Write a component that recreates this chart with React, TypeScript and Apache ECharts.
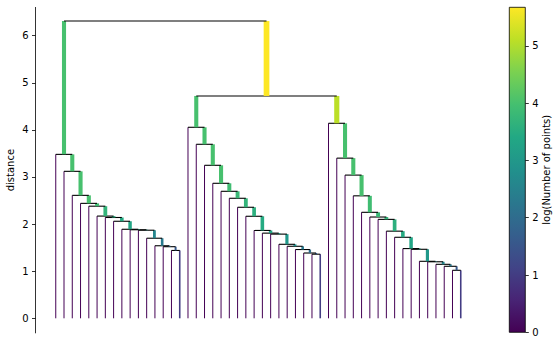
import React, { useEffect, useRef } from "react";
import * as echarts from "echarts";

// Merge heights (distance) of each caterpillar chain, from the top of the chain downwards
const leftClusterHeights = [3.48, 3.12, 2.61, 2.44, 2.38, 2.17, 2.14, 2.06, 1.89, 1.88, 1.87, 1.70, 1.54, 1.52, 1.44];
const middleClusterHeights = [4.055, 3.694, 3.248, 2.866, 2.696, 2.548, 2.357, 2.166, 1.865, 1.808, 1.787, 1.571, 1.529, 1.46, 1.386, 1.361];
const rightClusterHeights = [4.14, 3.4, 3.04, 2.6, 2.25, 2.15, 2.1, 1.85, 1.72, 1.48, 1.465, 1.21, 1.2, 1.146, 1.104, 1.019];

// Number of points carried by the right-hand branch of each of those merges
const leftClusterSizes = [16, 16, 16, 15, 13, 12, 11, 10, 9, 8, 6, 5, 4, 3, 2];
const middleClusterSizes = [16, 16, 16, 15, 14, 13, 12, 11, 10, 9, 8, 7, 5, 4, 3, 2];
const rightClusterSizes = [16, 16, 16, 15, 14, 13, 12, 11, 10, 9, 8, 7, 6, 5, 3, 2];

// Top-level merges
const middleRightHeight = 4.72;
const middleRightSizes = [16, 34];
const rootHeight = 6.31;
const rootSizes = [16, 51];

const distanceTicks = [0, 1, 2, 3, 4, 5, 6];
const colorbarTicks = [0, 1, 2, 3, 4, 5];

const VIRIDIS = [
  "#440154", "#482475", "#414487", "#355f8d", "#2a788e", "#21918c",
  "#22a884", "#44bf70", "#7ad151", "#bddf26", "#fde725",
];

function hexToRgb(h: string) {
  return [parseInt(h.slice(1, 3), 16), parseInt(h.slice(3, 5), 16), parseInt(h.slice(5, 7), 16)];
}
function viridis(t: number) {
  const c = Math.max(0, Math.min(1, t)) * (VIRIDIS.length - 1);
  const i = Math.min(Math.floor(c), VIRIDIS.length - 2);
  const f = c - i;
  const a = hexToRgb(VIRIDIS[i]);
  const b = hexToRgb(VIRIDIS[i + 1]);
  const m = a.map((v, k) => Math.round(v + (b[k] - v) * f));
  return `rgb(${m[0]},${m[1]},${m[2]})`;
}

type TreeNode = { x: number; h: number };

function buildSegments() {
  const segs: number[][] = []; // [x1, y1, x2, y2, size]; size 0 => black horizontal
  let leafIndex = 0;
  const chain = (heights: number[], sizes: number[]): TreeNode => {
    const n = heights.length;
    const xs: number[] = [];
    for (let i = 0; i <= n; i++) xs.push(5 + 10 * leafIndex++);
    let right: TreeNode = { x: xs[n], h: 0 };
    for (let k = n - 1; k >= 0; k--) {
      const left: TreeNode = { x: xs[k], h: 0 };
      const h = heights[k];
      segs.push([left.x, left.h, left.x, h, 1]);
      segs.push([right.x, right.h, right.x, h, sizes[k]]);
      segs.push([left.x, h, right.x, h, 0]);
      right = { x: (left.x + right.x) / 2, h };
    }
    return right;
  };
  const merge = (a: TreeNode, b: TreeNode, h: number, sizes: number[]): TreeNode => {
    segs.push([a.x, a.h, a.x, h, sizes[0]]);
    segs.push([b.x, b.h, b.x, h, sizes[1]]);
    segs.push([a.x, h, b.x, h, 0]);
    return { x: (a.x + b.x) / 2, h };
  };
  const L = chain(leftClusterHeights, leftClusterSizes);
  const M = chain(middleClusterHeights, middleClusterSizes);
  const R = chain(rightClusterHeights, rightClusterSizes);
  const MR = merge(M, R, middleRightHeight, middleRightSizes);
  merge(L, MR, rootHeight, rootSizes);
  return { segs, leafCount: leafIndex };
}

export default function App() {
  const ref = useRef<HTMLDivElement>(null);
  useEffect(() => {
    if (!ref.current) return;
    const chart = echarts.init(ref.current, null, { renderer: "svg" });
    const { segs, leafCount } = buildSegments();
    const allSizes = [
      ...leftClusterSizes, ...middleClusterSizes, ...rightClusterSizes,
      ...middleRightSizes, ...rootSizes,
    ];
    const cmax = Math.log2(Math.max(...allSizes));
    const font = "DejaVu Sans";
    const gradStops = VIRIDIS.map((c, i) => ({ offset: i / (VIRIDIS.length - 1), color: c }));
    const xSpan = 10 * leafCount;

    chart.setOption({
      animation: false,
      backgroundColor: "#ffffff",
      grid: [
        { left: 35.5, top: 7.4, width: 445.5, height: 325.5, outerBoundsMode: "none", containLabel: false },
        { left: 509.3, top: 7.3, width: 16, height: 325, outerBoundsMode: "none", containLabel: false },
      ],
      xAxis: [
        { type: "value", gridIndex: 0, min: -0.039 * xSpan, max: xSpan * 1.039, show: false },
        { type: "value", gridIndex: 1, min: 0, max: 1, show: false },
      ],
      yAxis: [
        {
          type: "value",
          gridIndex: 0,
          min: -0.31,
          max: 6.6,
          name: "distance",
          nameLocation: "middle",
          nameGap: 20,
          nameMoveOverlap: false,
          nameTextStyle: { fontFamily: font, fontSize: 10, color: "#000" },
          axisLine: { show: true, onZero: false, lineStyle: { color: "#000", width: 0.8 } },
          axisTick: { show: true, length: 3.5, lineStyle: { color: "#000", width: 0.8 }, customValues: distanceTicks },
          axisLabel: { show: true, margin: 7, fontFamily: font, fontSize: 10, color: "#000", customValues: distanceTicks },
          splitLine: { show: false },
        },
        {
          type: "value",
          gridIndex: 1,
          position: "right",
          min: 0,
          max: cmax,
          name: "log(Number of points)",
          nameLocation: "middle",
          nameRotate: 90,
          nameGap: 16,
          nameMoveOverlap: false,
          nameTextStyle: { fontFamily: font, fontSize: 10, color: "#000" },
          axisLine: { show: false, onZero: false },
          axisTick: { show: true, length: 3.5, lineStyle: { color: "#000", width: 0.8 }, customValues: colorbarTicks },
          axisLabel: { show: true, margin: 7, fontFamily: font, fontSize: 10, color: "#000", customValues: colorbarTicks },
          splitLine: { show: false },
        },
      ],
      series: [
        {
          type: "custom",
          xAxisIndex: 0,
          yAxisIndex: 0,
          encode: { x: [0, 2], y: [1, 3] },
          data: segs,
          renderItem: (_p: any, api: any) => {
            const p1 = api.coord([api.value(0), api.value(1)]);
            const p2 = api.coord([api.value(2), api.value(3)]);
            const n = api.value(4) as number;
            const isH = n === 0;
            return {
              type: "line",
              shape: { x1: p1[0], y1: p1[1], x2: p2[0], y2: p2[1] },
              style: {
                stroke: isH ? "#000" : viridis(Math.log2(n) / cmax),
                lineWidth: isH ? 1.1 : Math.log2(1 + n),
                lineCap: "butt",
              },
            };
          },
        },
        {
          type: "custom",
          xAxisIndex: 1,
          yAxisIndex: 1,
          data: [[0, cmax]],
          renderItem: (_p: any, api: any) => {
            const a = api.coord([0, 0]);
            const b = api.coord([1, api.value(1)]);
            return {
              type: "rect",
              shape: { x: a[0], y: b[1], width: b[0] - a[0], height: a[1] - b[1] },
              style: {
                fill: new echarts.graphic.LinearGradient(0, 1, 0, 0, gradStops),
                stroke: "#000",
                lineWidth: 0.8,
              },
            };
          },
        },
      ],
    });
    return () => chart.dispose();
  }, []);
  return (
    <div
      ref={ref}
      style={{ position: "fixed", left: 0, top: 0, width: 559, height: 346, background: "#fff" }}
    />
  );
}
